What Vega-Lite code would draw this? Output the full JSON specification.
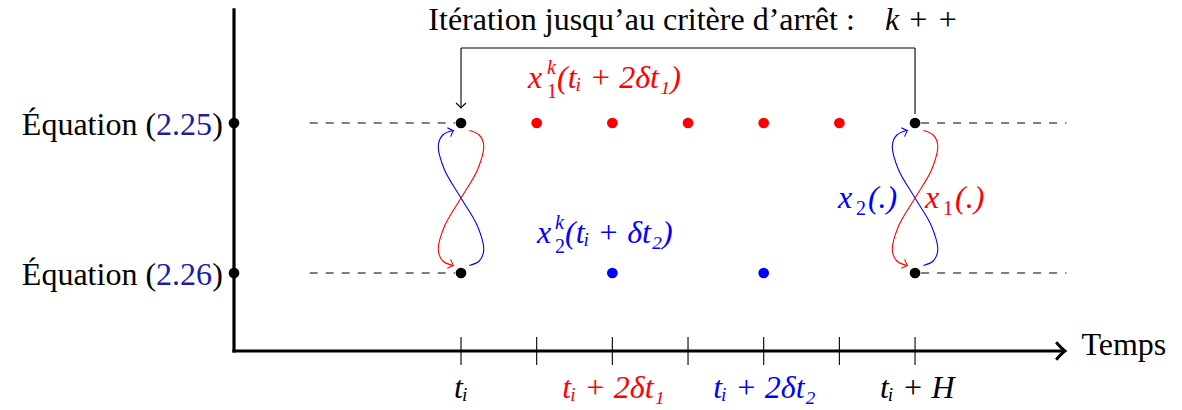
{
  "$schema": "https://vega.github.io/schema/vega-lite/v6.json",
  "width": 1182,
  "height": 410,
  "padding": 0,
  "autosize": {"type": "none"},
  "background": "white",
  "config": {"view": {"stroke": null}},
  "datasets": {
    "axes": [
      {"x": 0, "y": -0.04, "x2": 0, "y2": 4.507, "s": "k"},
      {"x": 0, "y": -0.04, "x2": 10.95, "y2": -0.04, "s": "k"}
    ],
    "axisArrow": [{"x": 10.98, "y": -0.04, "s": "k"}],
    "ticks": [
      {"x": 3, "y": -0.227, "x2": 3, "y2": 0.147, "s": "k"},
      {"x": 4, "y": -0.227, "x2": 4, "y2": 0.147, "s": "k"},
      {"x": 5, "y": -0.227, "x2": 5, "y2": 0.147, "s": "k"},
      {"x": 6, "y": -0.227, "x2": 6, "y2": 0.147, "s": "k"},
      {"x": 7, "y": -0.227, "x2": 7, "y2": 0.147, "s": "k"},
      {"x": 8, "y": -0.227, "x2": 8, "y2": 0.147, "s": "k"},
      {"x": 9, "y": -0.227, "x2": 9, "y2": 0.147, "s": "k"}
    ],
    "dashes": [
      {"x": 1, "y": 3, "x2": 2.92, "y2": 3, "s": "k"},
      {"x": 9.08, "y": 3, "x2": 11, "y2": 3, "s": "k"},
      {"x": 1, "y": 1, "x2": 2.92, "y2": 1, "s": "k"},
      {"x": 9.08, "y": 1, "x2": 11, "y2": 1, "s": "k"}
    ],
    "loop": [
      {"x": 9, "y": 3.12, "x2": 9, "y2": 4.0, "s": "k"},
      {"x": 3, "y": 4.0, "x2": 9, "y2": 4.0, "s": "k"},
      {"x": 3, "y": 4.0, "x2": 3, "y2": 3.21, "s": "k"}
    ],
    "loopArrow": [{"x": 3, "y": 3.2, "s": "k"}],
    "dots": [
      {"x": 0, "y": 3, "s": "k"}, {"x": 0, "y": 1, "s": "k"},
      {"x": 3, "y": 3, "s": "k"}, {"x": 3, "y": 1, "s": "k"},
      {"x": 9, "y": 3, "s": "k"}, {"x": 9, "y": 1, "s": "k"},
      {"x": 4, "y": 3, "s": "x1"}, {"x": 5, "y": 3, "s": "x1"},
      {"x": 6, "y": 3, "s": "x1"}, {"x": 7, "y": 3, "s": "x1"},
      {"x": 8, "y": 3, "s": "x1"},
      {"x": 5, "y": 1, "s": "x2"}, {"x": 7, "y": 1, "s": "x2"}
    ],
    "curves": [
      {"g": "b3", "o": 1, "x": 3.11, "y": 1.1, "s": "x2"},
      {"g": "b3", "o": 2, "x": 3.24, "y": 1.16, "s": "x2"},
      {"g": "b3", "o": 3, "x": 3.30, "y": 1.30, "s": "x2"},
      {"g": "b3", "o": 4, "x": 3.22, "y": 1.62, "s": "x2"},
      {"g": "b3", "o": 5, "x": 3.00, "y": 2.00, "s": "x2"},
      {"g": "b3", "o": 6, "x": 2.78, "y": 2.38, "s": "x2"},
      {"g": "b3", "o": 7, "x": 2.70, "y": 2.70, "s": "x2"},
      {"g": "b3", "o": 8, "x": 2.76, "y": 2.84, "s": "x2"},
      {"g": "b3", "o": 9, "x": 2.89, "y": 2.90, "s": "x2"},
      {"g": "r3", "o": 1, "x": 3.11, "y": 2.9, "s": "x1"},
      {"g": "r3", "o": 2, "x": 3.24, "y": 2.84, "s": "x1"},
      {"g": "r3", "o": 3, "x": 3.30, "y": 2.70, "s": "x1"},
      {"g": "r3", "o": 4, "x": 3.22, "y": 2.38, "s": "x1"},
      {"g": "r3", "o": 5, "x": 3.00, "y": 2.00, "s": "x1"},
      {"g": "r3", "o": 6, "x": 2.78, "y": 1.62, "s": "x1"},
      {"g": "r3", "o": 7, "x": 2.70, "y": 1.30, "s": "x1"},
      {"g": "r3", "o": 8, "x": 2.76, "y": 1.16, "s": "x1"},
      {"g": "r3", "o": 9, "x": 2.89, "y": 1.10, "s": "x1"},
      {"g": "b9", "o": 1, "x": 9.11, "y": 1.1, "s": "x2"},
      {"g": "b9", "o": 2, "x": 9.24, "y": 1.16, "s": "x2"},
      {"g": "b9", "o": 3, "x": 9.30, "y": 1.30, "s": "x2"},
      {"g": "b9", "o": 4, "x": 9.22, "y": 1.62, "s": "x2"},
      {"g": "b9", "o": 5, "x": 9.00, "y": 2.00, "s": "x2"},
      {"g": "b9", "o": 6, "x": 8.78, "y": 2.38, "s": "x2"},
      {"g": "b9", "o": 7, "x": 8.70, "y": 2.70, "s": "x2"},
      {"g": "b9", "o": 8, "x": 8.76, "y": 2.84, "s": "x2"},
      {"g": "b9", "o": 9, "x": 8.89, "y": 2.90, "s": "x2"},
      {"g": "r9", "o": 1, "x": 9.11, "y": 2.9, "s": "x1"},
      {"g": "r9", "o": 2, "x": 9.24, "y": 2.84, "s": "x1"},
      {"g": "r9", "o": 3, "x": 9.30, "y": 2.70, "s": "x1"},
      {"g": "r9", "o": 4, "x": 9.22, "y": 2.38, "s": "x1"},
      {"g": "r9", "o": 5, "x": 9.00, "y": 2.00, "s": "x1"},
      {"g": "r9", "o": 6, "x": 8.78, "y": 1.62, "s": "x1"},
      {"g": "r9", "o": 7, "x": 8.70, "y": 1.30, "s": "x1"},
      {"g": "r9", "o": 8, "x": 8.76, "y": 1.16, "s": "x1"},
      {"g": "r9", "o": 9, "x": 8.89, "y": 1.10, "s": "x1"}
    ],
    "arrowsUp": [
      {"x": 2.9, "y": 2.9, "s": "x2"},
      {"x": 8.9, "y": 2.9, "s": "x2"}
    ],
    "arrowsDown": [
      {"x": 2.9, "y": 1.1, "s": "x1"},
      {"x": 8.9, "y": 1.1, "s": "x1"}
    ],
    "plainCenter": [
      {"x": -0.661, "y": 2.84, "t": "2.25", "s": "ref"},
      {"x": -0.218, "y": 2.84, "t": ")", "s": "k"},
      {"x": -0.661, "y": 0.84, "t": "2.26", "s": "ref"},
      {"x": -0.218, "y": 0.84, "t": ")", "s": "k"},
      {"x": 5.386, "y": 4.24, "t": "Itération jusqu’au critère d’arrêt :", "s": "k"},
      {"x": 11.76, "y": -0.093, "t": "Temps", "s": "k"}
    ],
    "plainRight": [
      {"x": -1.03, "y": 2.84, "t": "Équation (", "s": "k"},
      {"x": -1.03, "y": 0.84, "t": "Équation (", "s": "k"}
    ],
    "mathLeft": [
      {"x": 8.603, "y": 4.24, "t": "k + +", "s": "k"},
      {"x": 3.885, "y": 3.467, "t": "x", "s": "x1"},
      {"x": 4.269, "y": 3.467, "t": "(tᵢ + 2δt₁)", "s": "x1"},
      {"x": 4.004, "y": 1.4, "t": "x", "s": "x2"},
      {"x": 4.374, "y": 1.4, "t": "(tᵢ + δt₂)", "s": "x2"},
      {"x": 7.982, "y": 1.867, "t": "x", "s": "x2"},
      {"x": 8.378, "y": 1.867, "t": "(.)", "s": "x2"},
      {"x": 9.132, "y": 1.867, "t": "x", "s": "x1"},
      {"x": 9.528, "y": 1.867, "t": "(.)", "s": "x1"}
    ],
    "supItalic": [
      {"x": 4.136, "y": 3.653, "t": "k", "s": "x1"},
      {"x": 4.242, "y": 1.587, "t": "k", "s": "x2"}
    ],
    "subUpright": [
      {"x": 4.136, "y": 3.333, "t": "1", "s": "x1"},
      {"x": 4.242, "y": 1.267, "t": "2", "s": "x2"},
      {"x": 8.22, "y": 1.773, "t": "2", "s": "x2"},
      {"x": 9.37, "y": 1.773, "t": "1", "s": "x1"}
    ],
    "mathCenter": [
      {"x": 3.0, "y": -0.667, "t": "tᵢ", "s": "k"},
      {"x": 5.015, "y": -0.667, "t": "tᵢ + 2δt₁", "s": "x1"},
      {"x": 7.01, "y": -0.667, "t": "tᵢ + 2δt₂", "s": "x2"},
      {"x": 9.03, "y": -0.667, "t": "tᵢ + H", "s": "k"}
    ]
  },
  "encoding": {
    "x": {"field": "x", "type": "quantitative", "scale": {"domain": [-3.0924, 12.528], "nice": false, "zero": false}, "axis": null},
    "y": {"field": "y", "type": "quantitative", "scale": {"domain": [-0.8267, 4.64], "nice": false, "zero": false}, "axis": null},
    "color": {"field": "s", "type": "nominal", "scale": {"domain": ["k", "x1", "x2", "ref"], "range": ["#000000", "#ff0000", "#0000ff", "#1c1ca8"]}, "legend": null}
  },
  "layer": [
    {
      "data": {"name": "dashes"},
      "mark": {"type": "rule", "strokeWidth": 1.1, "strokeDash": [8, 8]},
      "encoding": {"x2": {"field": "x2"}, "y2": {"field": "y2"}}
    },
    {
      "data": {"name": "ticks"},
      "mark": {"type": "rule", "strokeWidth": 1.1},
      "encoding": {"x2": {"field": "x2"}, "y2": {"field": "y2"}}
    },
    {
      "data": {"name": "axes"},
      "mark": {"type": "rule", "strokeWidth": 3.2, "strokeCap": "square"},
      "encoding": {"x2": {"field": "x2"}, "y2": {"field": "y2"}}
    },
    {
      "data": {"name": "axisArrow"},
      "mark": {"type": "point", "shape": "M -1 -1 Q -0.35 -0.25 0 0 Q -0.35 0.25 -1 1", "filled": false, "size": 300, "strokeWidth": 3, "opacity": 1},
      "encoding": {}
    },
    {
      "data": {"name": "loop"},
      "mark": {"type": "rule", "strokeWidth": 1.1},
      "encoding": {"x2": {"field": "x2"}, "y2": {"field": "y2"}}
    },
    {
      "data": {"name": "loopArrow"},
      "mark": {"type": "point", "shape": "M -1 -1 Q -0.35 -0.25 0 0 Q -0.35 0.25 -1 1", "filled": false, "size": 100, "strokeWidth": 1.1, "angle": 90, "opacity": 1},
      "encoding": {}
    },
    {
      "data": {"name": "curves"},
      "mark": {"type": "line", "strokeWidth": 1.1, "interpolate": "catmull-rom"},
      "encoding": {"detail": {"field": "g"}, "order": {"field": "o", "type": "quantitative"}}
    },
    {
      "data": {"name": "arrowsUp"},
      "mark": {"type": "point", "shape": "M -1 -1 Q -0.35 -0.25 0 0 Q -0.35 0.25 -1 1", "filled": false, "size": 90, "strokeWidth": 1.1, "angle": -20, "opacity": 1},
      "encoding": {}
    },
    {
      "data": {"name": "arrowsDown"},
      "mark": {"type": "point", "shape": "M -1 -1 Q -0.35 -0.25 0 0 Q -0.35 0.25 -1 1", "filled": false, "size": 90, "strokeWidth": 1.1, "angle": 20, "opacity": 1},
      "encoding": {}
    },
    {
      "data": {"name": "dots"},
      "mark": {"type": "circle", "size": 115, "opacity": 1},
      "encoding": {}
    },
    {
      "data": {"name": "plainCenter"},
      "mark": {"type": "text", "font": "Liberation Serif", "fontSize": 32, "align": "center", "baseline": "alphabetic"},
      "encoding": {"text": {"field": "t"}}
    },
    {
      "data": {"name": "plainRight"},
      "mark": {"type": "text", "font": "Liberation Serif", "fontSize": 32, "align": "right", "baseline": "alphabetic"},
      "encoding": {"text": {"field": "t"}}
    },
    {
      "data": {"name": "mathLeft"},
      "mark": {"type": "text", "font": "Liberation Serif", "fontSize": 32, "fontStyle": "italic", "align": "left", "baseline": "alphabetic"},
      "encoding": {"text": {"field": "t"}}
    },
    {
      "data": {"name": "supItalic"},
      "mark": {"type": "text", "font": "Liberation Serif", "fontSize": 20, "fontStyle": "italic", "align": "left", "baseline": "alphabetic"},
      "encoding": {"text": {"field": "t"}}
    },
    {
      "data": {"name": "subUpright"},
      "mark": {"type": "text", "font": "Liberation Serif", "fontSize": 20, "align": "left", "baseline": "alphabetic"},
      "encoding": {"text": {"field": "t"}}
    },
    {
      "data": {"name": "mathCenter"},
      "mark": {"type": "text", "font": "Liberation Serif", "fontSize": 32, "fontStyle": "italic", "align": "center", "baseline": "alphabetic"},
      "encoding": {"text": {"field": "t"}}
    }
  ]
}
